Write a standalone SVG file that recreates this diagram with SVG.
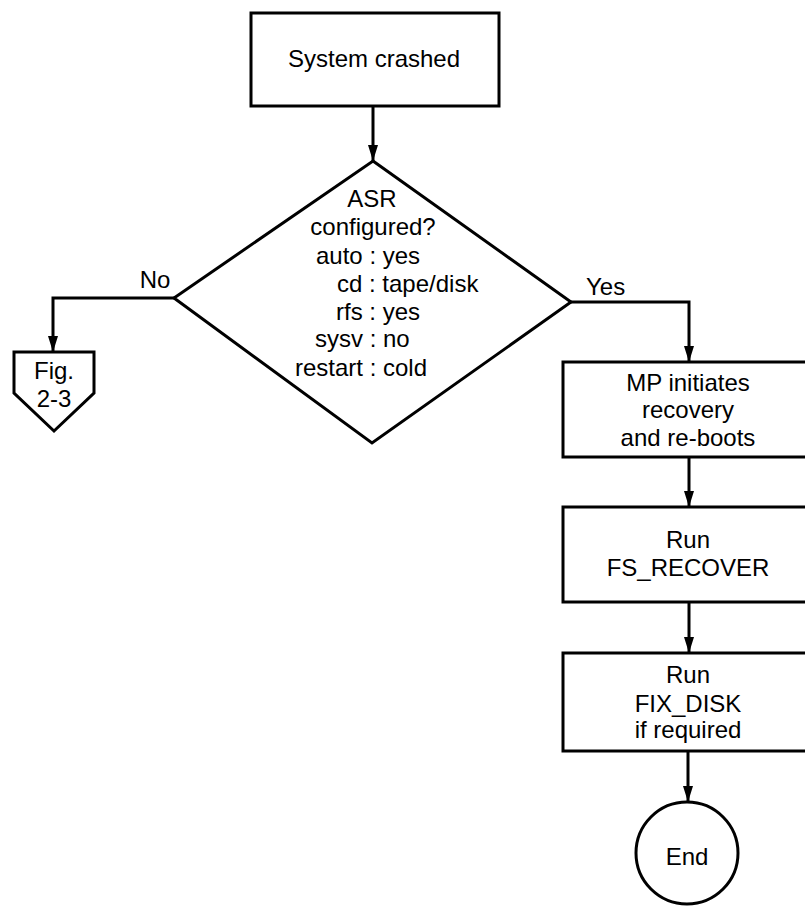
<svg xmlns="http://www.w3.org/2000/svg" width="805" height="911" viewBox="0 0 805 911">
<style>
.shape{fill:#fff;stroke:#000;stroke-width:3}
.conn{fill:none;stroke:#000;stroke-width:3}
text{font-family:"Liberation Sans",Arial,Helvetica,sans-serif;font-size:24px;fill:#000}
.c{text-anchor:middle}
</style>
<defs>
<marker id="arr" viewBox="0 0 16 10" refX="16" refY="5" markerWidth="16" markerHeight="10" markerUnits="userSpaceOnUse" orient="auto">
<path d="M0,0 L16,5 L0,10 z" fill="#000"/>
</marker>
</defs>
<rect width="805" height="911" fill="#fff"/>
<g id="connectors">
<path class="conn" d="M373,106 L373,161" marker-end="url(#arr)"/>
<path class="conn" d="M174,298 L53,298 L53,352" marker-end="url(#arr)"/>
<path class="conn" d="M571,302 L689,302 L689,362" marker-end="url(#arr)"/>
<path class="conn" d="M689,457 L689,507" marker-end="url(#arr)"/>
<path class="conn" d="M689,602 L689,653" marker-end="url(#arr)"/>
<path class="conn" d="M688,751 L688,802" marker-end="url(#arr)"/>
<text x="155" y="288" class="c">No</text>
<text x="586" y="295">Yes</text>
</g>
<g id="start">
<rect class="shape" x="251" y="13" width="248" height="93"/>
<text x="374" y="67" class="c">System crashed</text>
</g>
<g id="decision">
<polygon class="shape" points="373,161 571,302 372,443 174,298"/>
<text x="372" y="207" class="c">ASR</text>
<text x="373" y="235" class="c">configured?</text>
<text x="316" y="264">auto : yes</text>
<text x="337" y="292">cd : tape/disk</text>
<text x="336" y="320">rfs : yes</text>
<text x="315" y="347">sysv : no</text>
<text x="295" y="376">restart : cold</text>
</g>
<g id="offpage">
<polygon class="shape" points="14,352 94,352 94,393 54,431 14,393"/>
<text x="54" y="379" class="c">Fig.</text>
<text x="54" y="407" class="c">2-3</text>
</g>
<g id="recovery">
<rect class="shape" x="563" y="362" width="260" height="95"/>
<text x="688" y="391" class="c">MP initiates</text>
<text x="688" y="418" class="c">recovery</text>
<text x="688" y="446" class="c">and re-boots</text>
</g>
<g id="fsrecover">
<rect class="shape" x="563" y="507" width="260" height="95"/>
<text x="688" y="548" class="c">Run</text>
<text x="688" y="576" class="c">FS_RECOVER</text>
</g>
<g id="fixdisk">
<rect class="shape" x="563" y="653" width="260" height="98"/>
<text x="688" y="683" class="c">Run</text>
<text x="688" y="712" class="c">FIX_DISK</text>
<text x="688" y="738" class="c">if required</text>
</g>
<g id="end">
<circle class="shape" cx="687" cy="853" r="51"/>
<text x="687" y="865" class="c">End</text>
</g>
</svg>
